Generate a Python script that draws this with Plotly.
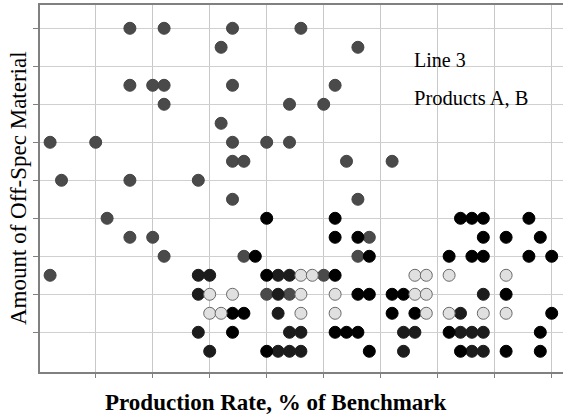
import plotly.graph_objects as go

# Production rate positions (x units, grid every 5) and off-spec amount (y units, grid every 1)
dark_x = [8, 11, 17, 23, 16, 28, 8, 10, 11, 17, 26, 11, 22, 25, 16, 1, 5, 17, 20, 22,
          17, 18, 27, 31, 2, 8, 14, 17, 28, 6, 8, 10, 29, 11, 18, 28, 1, 25, 20, 22]
dark_y = [9, 9, 9, 9, 8.5, 8.5, 7.5, 7.5, 7.5, 7.5, 7.5, 7, 7, 7, 6.5, 6, 6, 6, 6, 6,
          5.5, 5.5, 5.5, 5.5, 5, 5, 5, 4.5, 4.5, 4, 3.5, 3.5, 3.5, 3, 3, 3, 2.5, 2.5, 2, 2]

light_x = [23, 24, 33, 34, 36, 41, 15, 17, 23, 26, 33, 34, 15, 16, 23, 26, 34, 36, 39, 41]
light_y = [2.5, 2.5, 2.5, 2.5, 2.5, 2.5, 2, 2, 2, 2, 2, 2, 1.5, 1.5, 1.5, 1.5, 1.5, 1.5, 1.5, 1.5]

black_x = [20, 26, 37, 38, 39, 43, 26, 28, 39, 41, 44, 19, 29, 36, 38, 39, 43, 45,
           20, 26, 28, 29, 31, 32, 41, 17, 18, 31, 33, 45, 17, 26, 27, 28, 36, 44,
           20, 29, 37, 41, 44]
black_y = [4, 4, 4, 4, 4, 4, 3.5, 3.5, 3.5, 3.5, 3.5, 3, 3, 3, 3, 3, 3, 3,
           2.5, 2.5, 2, 2, 2, 2, 2, 1.5, 1.5, 1.5, 1.5, 1.5, 1, 1, 1, 1, 1, 1,
           0.5, 0.5, 0.5, 0.5, 0.5]

nearblack_x = [14, 15, 21, 22, 14, 21, 39, 21, 37, 14, 22, 23, 32, 33, 37, 38, 39,
               15, 21, 22, 23, 32, 38, 39]
nearblack_y = [2.5, 2.5, 2.5, 2.5, 2, 2, 2, 1.5, 1.5, 1, 1, 1, 1, 1, 1, 1, 1,
               0.5, 0.5, 0.5, 0.5, 0.5, 0.5, 0.5]

x_ticks = [5, 10, 15, 20, 25, 30, 35, 40, 45]
y_ticks = [1, 2, 3, 4, 5, 6, 7, 8, 9]

fig = go.Figure()

def add(xs, ys, fill, line):
    fig.add_trace(go.Scatter(
        x=xs, y=ys, mode="markers",
        marker=dict(size=12, color=fill, line=dict(color=line, width=1)),
        showlegend=False, hoverinfo="skip"))

add(dark_x, dark_y, "#4a4a4a", "#444444")
add(nearblack_x, nearblack_y, "#1c1c1c", "#1c1c1c")
add(black_x, black_y, "#000000", "#000000")
add(light_x, light_y, "#e0e0e0", "#6a6a6a")

serif = "Liberation Serif, Times New Roman, serif"

fig.update_layout(
    width=563, height=414,
    margin=dict(l=40, r=0, t=5, b=42, pad=0),
    paper_bgcolor="white", plot_bgcolor="white",
    font=dict(family=serif, color="black"),
    xaxis=dict(range=[0.114, 45.99], tickvals=x_ticks, showticklabels=False,
               showgrid=True, gridcolor="#c8c8c8", gridwidth=1, zeroline=False,
               showline=True, linecolor="#808080", linewidth=1.5, mirror=True,
               ticks="outside", ticklen=4, tickcolor="#808080"),
    yaxis=dict(range=[-0.045, 9.613], tickvals=y_ticks, showticklabels=False,
               showgrid=True, gridcolor="#d0d0d0", gridwidth=1, zeroline=False,
               showline=True, linecolor="#808080", linewidth=1.5,
               ticks="outside", ticklen=5, tickcolor="#808080"),
    annotations=[
        dict(text="Line 3", xref="paper", yref="paper", x=(412 - 40) / 523,
             y=(372 - 60) / 367, xanchor="left", yanchor="middle",
             showarrow=False, font=dict(size=20, family=serif)),
        dict(text="Products A, B", xref="paper", yref="paper", x=(412 - 40) / 523,
             y=(372 - 98) / 367, xanchor="left", yanchor="middle",
             showarrow=False, font=dict(size=20.5, family=serif)),
        dict(text="<b>Production Rate, % of Benchmark</b>", xref="paper", yref="paper",
             x=(276 - 40) / 523, y=0, yshift=-30, xanchor="center", yanchor="middle",
             showarrow=False, font=dict(size=23, family=serif)),
        dict(text="Amount of Off-Spec Material", xref="paper", yref="paper",
             x=0, xshift=-22, y=(372 - 188) / 367, textangle=-90,
             xanchor="center", yanchor="middle",
             showarrow=False, font=dict(size=23, family=serif)),
    ],
)

fig.write_html("out.html")
